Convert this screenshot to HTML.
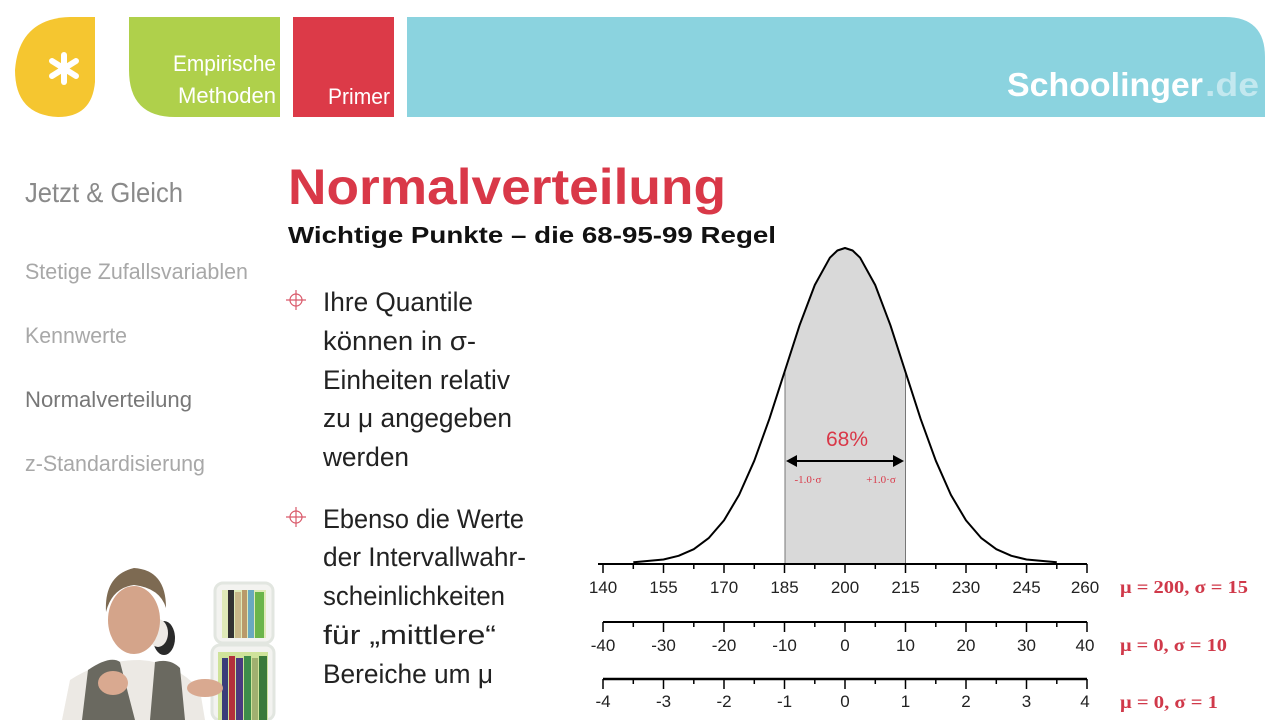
<!DOCTYPE html>
<html><head><meta charset="utf-8"><style>
html,body{margin:0;padding:0;background:#fff;}
svg{display:block;}
text{font-family:"Liberation Sans",sans-serif;}
.serif text{font-family:"Liberation Serif",serif;}
</style></head><body>
<svg width="1280" height="720" viewBox="0 0 1280 720" xmlns="http://www.w3.org/2000/svg">
<rect width="1280" height="720" fill="#fff"/>
<!-- header -->
<path d="M95 17 V82 Q92 117 58 117 Q15 115 15 70 Q18 30 50 20 Q60 17 70 17 Z" fill="#f5c630"/>
<g stroke="#fff" stroke-width="6" stroke-linecap="round">
<line x1="64" y1="55" x2="64" y2="82"/><line x1="52" y1="61" x2="76" y2="76"/><line x1="52" y1="76" x2="76" y2="61"/>
</g>
<path d="M129 17 H280 V117 H175 Q129 117 129 70 Z" fill="#afd04b"/>
<text x="276" y="71" font-size="22" fill="#fff" text-anchor="end" textLength="103" lengthAdjust="spacingAndGlyphs">Empirische</text>
<text x="276" y="103" font-size="22" fill="#fff" text-anchor="end" textLength="98" lengthAdjust="spacingAndGlyphs">Methoden</text>
<rect x="293" y="17" width="101" height="100" fill="#dc3a48"/>
<text x="390" y="104" font-size="22" fill="#fff" text-anchor="end" textLength="62" lengthAdjust="spacingAndGlyphs">Primer</text>
<path d="M407 17 H1225 Q1265 17 1265 57 V117 H407 Z" fill="#8bd3df"/>
<text x="1007" y="96" font-size="33" font-weight="bold" fill="#fff" textLength="196" lengthAdjust="spacingAndGlyphs">Schoolinger</text>
<text x="1205" y="96" font-size="33" font-weight="bold" fill="#c3e8ef" textLength="54" lengthAdjust="spacingAndGlyphs">.de</text>
<!-- left nav -->
<text x="25" y="202" font-size="28" fill="#8a8a8a" textLength="158" lengthAdjust="spacingAndGlyphs">Jetzt &amp; Gleich</text>
<text x="25" y="279" font-size="22" fill="#a8a8a8" textLength="223" lengthAdjust="spacingAndGlyphs">Stetige Zufallsvariablen</text>
<text x="25" y="343" font-size="22" fill="#a8a8a8" textLength="102" lengthAdjust="spacingAndGlyphs">Kennwerte</text>
<text x="25" y="407" font-size="22" fill="#777" textLength="167" lengthAdjust="spacingAndGlyphs">Normalverteilung</text>
<text x="25" y="471" font-size="22" fill="#a8a8a8" textLength="180" lengthAdjust="spacingAndGlyphs">z-Standardisierung</text>
<!-- title -->
<text x="288" y="204" font-size="50" font-weight="bold" fill="#d93848" textLength="438" lengthAdjust="spacingAndGlyphs">Normalverteilung</text>
<text x="288" y="243" font-size="23" font-weight="bold" fill="#111" textLength="488" lengthAdjust="spacingAndGlyphs">Wichtige Punkte – die 68-95-99 Regel</text>
<!-- bullets -->
<g stroke="#d9596a" stroke-width="1.2" fill="none">
<circle cx="296" cy="300" r="6"/><line x1="286" y1="300" x2="306" y2="300"/><line x1="296" y1="290" x2="296" y2="310"/>
<circle cx="296" cy="517" r="6"/><line x1="286" y1="517" x2="306" y2="517"/><line x1="296" y1="507" x2="296" y2="527"/>
</g>
<g font-size="27" fill="#222">
<text x="323" y="311" textLength="150" lengthAdjust="spacingAndGlyphs">Ihre Quantile</text>
<text x="323" y="350" textLength="153" lengthAdjust="spacingAndGlyphs">können in σ-</text>
<text x="323" y="389" textLength="187" lengthAdjust="spacingAndGlyphs">Einheiten relativ</text>
<text x="323" y="427" textLength="189" lengthAdjust="spacingAndGlyphs">zu μ angegeben</text>
<text x="323" y="466" textLength="86" lengthAdjust="spacingAndGlyphs">werden</text>
<text x="323" y="528" textLength="201" lengthAdjust="spacingAndGlyphs">Ebenso die Werte</text>
<text x="323" y="566" textLength="203" lengthAdjust="spacingAndGlyphs">der Intervallwahr-</text>
<text x="323" y="605" textLength="182" lengthAdjust="spacingAndGlyphs">scheinlichkeiten</text>
<text x="323" y="644" textLength="173" lengthAdjust="spacingAndGlyphs">für „mittlere“</text>
<text x="323" y="683" textLength="170" lengthAdjust="spacingAndGlyphs">Bereiche um μ</text>
</g>
<!-- shaded area -->
<polygon points="784.5,564 784.5,372 799.6,325.2 814.8,285 829.9,257.7 837.4,250.5 845,248 852.6,250.5 860.1,257.7 875.2,285 890.4,325.2 905.5,372 905.5,564" fill="#d9d9d9"/>
<line x1="785" y1="372" x2="785" y2="564" stroke="#777" stroke-width="1"/>
<line x1="905.5" y1="372" x2="905.5" y2="564" stroke="#777" stroke-width="1"/>
<polyline fill="none" stroke="#000" stroke-width="2" stroke-linejoin="round" points="633.3,562.3 663.5,559.5 678.6,555.8 693.8,549.2 708.9,537.9 724,520.4 739.1,494.9 754.3,460.7 769.4,418.8 784.5,372 799.6,325.2 814.8,285 829.9,257.7 837.4,250.5 845,248 852.6,250.5 860.1,257.7 875.2,285 890.4,325.2 905.5,372 920.6,418.8 935.8,460.7 950.9,494.9 966,520.4 981.1,537.9 996.3,549.2 1011.4,555.8 1026.5,559.5 1056.8,562.3"/>
<text x="847" y="446" font-size="21" fill="#d93848" text-anchor="middle">68%</text>
<line x1="792" y1="461" x2="898" y2="461" stroke="#000" stroke-width="2"/>
<polygon points="786,461 797,455 797,467" fill="#000"/>
<polygon points="904,461 893,455 893,467" fill="#000"/>
<g class="serif" font-size="11" fill="#d93848">
<text x="808" y="483" text-anchor="middle">-1.0·σ</text>
<text x="881" y="483" text-anchor="middle">+1.0·σ</text>
</g>
<!-- axes -->
<g stroke="#000">
<line x1="598" y1="564" x2="1087" y2="564" stroke-width="2"/>
<line x1="603" y1="622" x2="1087" y2="622" stroke-width="2"/>
<line x1="603" y1="679" x2="1087" y2="679" stroke-width="2.5"/>
<g stroke-width="1.5">
<path d="M603 564v9M663.5 564v9M724 564v9M784.5 564v9M845 564v9M905.5 564v9M966 564v9M1026.5 564v9M1087 564v9"/>
<path d="M633.3 564v5M693.8 564v5M754.3 564v5M814.8 564v5M875.3 564v5M935.8 564v5M996.3 564v5M1056.8 564v5"/>
<path d="M603 622v10M663.5 622v10M724 622v10M784.5 622v10M845 622v10M905.5 622v10M966 622v10M1026.5 622v10M1087 622v10"/>
<path d="M633.3 622v5M693.8 622v5M754.3 622v5M814.8 622v5M875.3 622v5M935.8 622v5M996.3 622v5M1056.8 622v5"/>
<path d="M603 679v10M663.5 679v10M724 679v10M784.5 679v10M845 679v10M905.5 679v10M966 679v10M1026.5 679v10M1087 679v10"/>
<path d="M633.3 679v5M693.8 679v5M754.3 679v5M814.8 679v5M875.3 679v5M935.8 679v5M996.3 679v5M1056.8 679v5"/>
</g></g>
<g font-size="17" fill="#222" text-anchor="middle">
<text x="603" y="593">140</text><text x="663.5" y="593">155</text><text x="724" y="593">170</text><text x="784.5" y="593">185</text><text x="845" y="593">200</text><text x="905.5" y="593">215</text><text x="966" y="593">230</text><text x="1026.5" y="593">245</text><text x="1085" y="593">260</text>
<text x="603" y="651">-40</text><text x="663.5" y="651">-30</text><text x="724" y="651">-20</text><text x="784.5" y="651">-10</text><text x="845" y="651">0</text><text x="905.5" y="651">10</text><text x="966" y="651">20</text><text x="1026.5" y="651">30</text><text x="1085" y="651">40</text>
<text x="603" y="707">-4</text><text x="663.5" y="707">-3</text><text x="724" y="707">-2</text><text x="784.5" y="707">-1</text><text x="845" y="707">0</text><text x="905.5" y="707">1</text><text x="966" y="707">2</text><text x="1026.5" y="707">3</text><text x="1085" y="707">4</text>
</g>
<g class="serif" font-size="18" font-weight="bold" fill="#d0394a">
<text x="1120" y="593" textLength="128" lengthAdjust="spacingAndGlyphs">μ = 200, σ = 15</text>
<text x="1120" y="651" textLength="107" lengthAdjust="spacingAndGlyphs">μ = 0, σ = 10</text>
<text x="1120" y="708" textLength="98" lengthAdjust="spacingAndGlyphs">μ = 0, σ = 1</text>
</g>
<!-- presenter photo approximation -->
<rect x="215" y="583" width="58" height="60" rx="8" fill="#f3f3f0" stroke="#e2e6e0" stroke-width="3"/>
<rect x="222" y="590" width="44" height="48" fill="#dfeab8"/>
<rect x="228" y="590" width="6" height="48" fill="#333"/><rect x="235" y="592" width="6" height="46" fill="#c9b88a"/><rect x="242" y="590" width="5" height="48" fill="#b99a6a"/><rect x="248" y="590" width="6" height="48" fill="#6aa9c0"/><rect x="255" y="592" width="9" height="46" fill="#6bb54a"/>
<rect x="212" y="645" width="62" height="75" rx="8" fill="#f3f3f0" stroke="#e2e6e0" stroke-width="3"/>
<rect x="218" y="652" width="50" height="68" fill="#cfe39a"/>
<rect x="222" y="658" width="6" height="62" fill="#3a3d7a"/><rect x="229" y="656" width="6" height="64" fill="#b2303c"/><rect x="236" y="658" width="7" height="62" fill="#4a3a80"/><rect x="244" y="656" width="7" height="64" fill="#3e8c4a"/><rect x="252" y="658" width="6" height="62" fill="#a0b070"/><rect x="259" y="656" width="8" height="64" fill="#3a7a3a"/>
<path d="M62 720 L70 680 Q100 660 140 660 Q175 662 200 690 L205 720 Z" fill="#ece9e4"/>
<path d="M82 720 L88 670 Q110 655 120 662 L135 720 Z M150 720 L155 662 Q170 658 180 668 L185 720 Z" fill="#6a6960"/>
<ellipse cx="164" cy="638" rx="11" ry="17" fill="#2a2a2a"/>
<ellipse cx="158" cy="633" rx="10" ry="14" fill="#eeeae5"/>
<ellipse cx="134" cy="620" rx="26" ry="34" fill="#d4a48a"/>
<path d="M106 612 Q104 575 134 568 Q166 570 166 608 Q160 588 134 585 Q112 588 106 612 Z" fill="#7d6a52"/>
<ellipse cx="113" cy="683" rx="15" ry="12" fill="#d9a990"/>
<ellipse cx="205" cy="688" rx="18" ry="9" fill="#d9a990"/>
</svg>
</body></html>
